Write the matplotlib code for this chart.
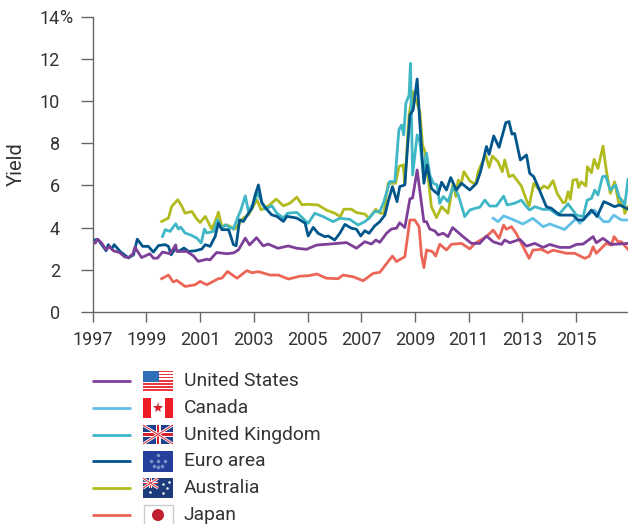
import matplotlib
matplotlib.use("Agg")
import matplotlib.pyplot as plt
from matplotlib.patches import Rectangle, Circle

plt.rcParams['font.family'] = ['Roboto', 'DejaVu Sans']

# =========================
# DATA
# =========================
us_t = [1997.0, 1997.1, 1997.17, 1997.33, 1997.5, 1997.62, 1997.77, 1998.0, 1998.2, 1998.36, 1998.5, 1998.57, 1998.82, 1999.13, 1999.26, 1999.41, 1999.6, 1999.88, 2000.09, 2000.13, 2000.5, 2000.75, 2000.93, 2001.25, 2001.37, 2001.5, 2001.62, 2002.0, 2002.25, 2002.43, 2002.68, 2002.84, 2003.1, 2003.35, 2003.53, 2003.9, 2004.28, 2004.59, 2004.96, 2005.33, 2005.83, 2006.45, 2006.82, 2007.13, 2007.38, 2007.54, 2007.69, 2007.94, 2008.12, 2008.31, 2008.43, 2008.62, 2008.81, 2008.91, 2009.08, 2009.2, 2009.33, 2009.43, 2009.55, 2009.74, 2009.86, 2010.05, 2010.23, 2010.4, 2010.57, 2010.79, 2011.1, 2011.41, 2011.66, 2011.91, 2012.22, 2012.34, 2012.53, 2012.9, 2013.15, 2013.46, 2013.77, 2014.02, 2014.39, 2014.76, 2015.01, 2015.26, 2015.63, 2015.75, 2016.0, 2016.31, 2016.93]
us_y = [3.34, 3.26, 3.45, 3.27, 2.95, 3.1, 2.9, 2.82, 2.6, 2.6, 2.76, 3.07, 2.58, 2.76, 2.55, 2.55, 2.84, 2.76, 3.18, 2.87, 2.87, 2.66, 2.4, 2.5, 2.47, 2.66, 2.82, 2.76, 2.8, 2.95, 3.5, 3.18, 3.52, 3.13, 3.22, 3.02, 3.13, 3.02, 2.97, 3.17, 3.22, 3.29, 3.02, 3.33, 3.22, 3.41, 3.3, 3.73, 3.93, 3.97, 4.23, 4.0, 5.36, 5.4, 6.73, 5.55, 4.28, 4.28, 3.93, 3.84, 3.65, 3.73, 3.57, 4.0, 3.81, 3.57, 3.25, 3.25, 3.6, 3.33, 3.2, 3.41, 3.28, 3.44, 3.12, 3.25, 3.06, 3.2, 3.06, 3.06, 3.2, 3.22, 3.57, 3.28, 3.49, 3.2, 3.25]

canada_t = [2011.91, 2012.09, 2012.3, 2012.53, 2013.02, 2013.39, 2013.77, 2014.02, 2014.57, 2015.01, 2015.13, 2015.38, 2015.69, 2015.9, 2016.03, 2016.22, 2016.4, 2016.68, 2016.93]
canada_y = [4.44, 4.28, 4.55, 4.44, 4.17, 4.44, 4.04, 4.17, 3.91, 4.44, 4.2, 4.52, 4.83, 4.44, 4.28, 4.28, 4.59, 4.36, 4.36]

uk_t = [1999.6, 1999.7, 1999.88, 2000.09, 2000.19, 2000.28, 2000.44, 2000.63, 2000.88, 2001.04, 2001.16, 2001.25, 2001.5, 2001.65, 2001.81, 2001.93, 2002.09, 2002.24, 2002.39, 2002.52, 2002.68, 2002.8, 2002.99, 2003.14, 2003.26, 2003.42, 2003.67, 2003.86, 2004.1, 2004.25, 2004.6, 2005.02, 2005.27, 2005.58, 2005.95, 2006.2, 2006.57, 2006.88, 2007.13, 2007.29, 2007.5, 2007.69, 2007.84, 2008.06, 2008.25, 2008.4, 2008.5, 2008.58, 2008.66, 2008.78, 2008.83, 2008.91, 2009.08, 2009.18, 2009.3, 2009.43, 2009.55, 2009.68, 2009.82, 2009.92, 2010.05, 2010.23, 2010.42, 2010.61, 2010.85, 2011.04, 2011.23, 2011.41, 2011.6, 2011.78, 2012.03, 2012.3, 2012.43, 2012.71, 2012.96, 2013.15, 2013.27, 2013.46, 2013.77, 2014.02, 2014.33, 2014.7, 2015.01, 2015.26, 2015.41, 2015.57, 2015.69, 2015.81, 2015.98, 2016.1, 2016.27, 2016.47, 2016.6, 2016.81, 2016.93]
uk_y = [3.58, 3.9, 3.82, 4.18, 3.93, 4.02, 3.74, 3.66, 3.5, 3.27, 3.93, 3.74, 3.82, 4.37, 3.93, 4.13, 4.02, 3.93, 4.45, 4.84, 5.5, 4.76, 5.16, 5.63, 5.32, 4.87, 5.03, 4.68, 4.45, 4.68, 4.72, 4.2, 4.68, 4.52, 4.28, 4.44, 4.39, 4.12, 4.28, 4.44, 4.76, 4.75, 5.23, 6.18, 6.18, 8.63, 8.86, 8.39, 9.89, 10.28, 11.78, 6.49, 8.39, 8.07, 6.65, 7.52, 6.49, 6.1, 6.02, 5.15, 5.47, 5.23, 5.94, 5.55, 4.52, 4.83, 4.91, 4.96, 5.3, 5.02, 5.02, 5.49, 5.07, 5.15, 5.3, 4.99, 4.83, 4.99, 4.86, 4.86, 4.59, 5.12, 4.59, 4.52, 5.3, 5.38, 5.78, 5.54, 6.41, 6.44, 5.78, 6.02, 5.46, 5.07, 6.28]

euro_t = [1997.0, 1997.21, 1997.5, 1997.58, 1997.71, 1997.8, 1998.02, 1998.33, 1998.52, 1998.66, 1998.86, 1999.07, 1999.26, 1999.45, 1999.7, 1999.82, 1999.92, 2000.07, 2000.19, 2000.4, 2000.57, 2000.81, 2001.06, 2001.19, 2001.37, 2001.56, 2001.68, 2001.81, 2002.06, 2002.24, 2002.34, 2002.47, 2002.61, 2002.8, 2002.93, 2003.05, 2003.17, 2003.3, 2003.55, 2003.67, 2003.86, 2004.1, 2004.23, 2004.6, 2004.91, 2005.02, 2005.21, 2005.39, 2005.64, 2005.77, 2006.01, 2006.2, 2006.39, 2006.63, 2006.82, 2006.98, 2007.13, 2007.29, 2007.5, 2007.69, 2007.88, 2008.0, 2008.16, 2008.33, 2008.43, 2008.62, 2008.81, 2008.93, 2009.08, 2009.2, 2009.33, 2009.45, 2009.61, 2009.74, 2009.86, 2009.99, 2010.17, 2010.33, 2010.54, 2010.73, 2011.04, 2011.29, 2011.44, 2011.66, 2011.76, 2011.93, 2012.13, 2012.38, 2012.5, 2012.61, 2012.71, 2012.92, 2013.15, 2013.27, 2013.42, 2013.54, 2013.71, 2013.89, 2014.08, 2014.39, 2014.88, 2015.07, 2015.26, 2015.57, 2015.78, 2016.03, 2016.31, 2016.43, 2016.62, 2016.93]
euro_y = [3.42, 3.42, 2.9, 3.19, 2.98, 3.19, 2.87, 2.56, 2.71, 3.45, 3.11, 3.11, 2.84, 3.15, 3.19, 3.11, 2.71, 3.0, 2.87, 3.03, 2.87, 2.9, 2.98, 3.19, 3.11, 3.58, 4.21, 3.9, 3.9, 3.19, 3.14, 4.37, 4.29, 4.68, 4.92, 5.55, 6.02, 5.16, 4.76, 4.6, 4.53, 4.29, 4.53, 4.45, 4.21, 3.6, 4.01, 3.73, 3.57, 3.6, 3.41, 3.73, 4.15, 3.97, 3.92, 3.6, 3.85, 3.73, 4.08, 4.28, 4.6, 5.23, 5.94, 5.23, 5.94, 6.02, 9.34, 9.57, 11.04, 8.55, 6.1, 6.97, 5.86, 5.7, 5.58, 6.15, 5.78, 6.37, 5.78, 6.1, 5.78, 6.1, 6.65, 7.84, 7.47, 8.34, 7.8, 8.97, 9.02, 8.43, 8.46, 7.2, 7.44, 6.57, 6.41, 6.06, 5.54, 4.99, 4.91, 4.59, 4.59, 4.36, 4.36, 4.83, 4.52, 5.23, 5.07, 4.99, 5.07, 4.88]

aus_t = [1999.57, 1999.82, 1999.94, 2000.17, 2000.32, 2000.44, 2000.69, 2000.88, 2001.0, 2001.19, 2001.43, 2001.56, 2001.68, 2001.81, 2001.99, 2002.3, 2002.61, 2002.8, 2003.11, 2003.27, 2003.55, 2003.83, 2004.1, 2004.35, 2004.6, 2004.79, 2005.0, 2005.39, 2005.7, 2006.01, 2006.22, 2006.35, 2006.63, 2006.82, 2007.13, 2007.29, 2007.54, 2007.69, 2007.84, 2008.0, 2008.28, 2008.4, 2008.56, 2008.62, 2008.78, 2008.93, 2009.05, 2009.18, 2009.28, 2009.37, 2009.49, 2009.61, 2009.8, 2009.99, 2010.23, 2010.42, 2010.52, 2010.61, 2010.71, 2010.82, 2011.04, 2011.26, 2011.35, 2011.63, 2011.76, 2011.88, 2012.09, 2012.25, 2012.34, 2012.5, 2012.65, 2012.96, 2013.15, 2013.25, 2013.42, 2013.64, 2013.8, 2013.95, 2014.14, 2014.29, 2014.51, 2014.6, 2014.7, 2014.78, 2014.88, 2015.03, 2015.09, 2015.19, 2015.36, 2015.42, 2015.57, 2015.67, 2015.81, 2016.0, 2016.12, 2016.27, 2016.43, 2016.6, 2016.72, 2016.81, 2016.93]
aus_y = [4.29, 4.45, 5.0, 5.32, 5.0, 4.68, 4.76, 4.4, 4.24, 4.53, 3.93, 4.29, 4.73, 4.05, 4.13, 3.93, 4.45, 4.6, 5.32, 4.84, 5.03, 5.35, 5.03, 5.16, 5.44, 5.08, 5.1, 5.07, 4.83, 4.68, 4.52, 4.87, 4.87, 4.71, 4.64, 4.44, 4.87, 4.68, 4.68, 6.1, 6.1, 6.89, 6.97, 6.1, 9.34, 10.44, 9.97, 9.5, 7.91, 7.6, 6.33, 4.99, 4.47, 4.99, 4.68, 6.1, 5.47, 6.25, 6.02, 6.65, 6.21, 6.05, 6.65, 7.44, 6.85, 7.39, 7.12, 6.65, 7.2, 6.41, 6.49, 5.97, 5.3, 5.02, 6.09, 5.78, 5.97, 5.86, 6.22, 5.62, 5.18, 5.2, 5.7, 5.34, 6.25, 6.28, 5.9, 6.17, 5.97, 6.88, 6.6, 7.23, 6.8, 7.86, 6.73, 5.62, 6.17, 5.07, 5.3, 4.67, 4.99]

japan_t = [1999.57, 1999.82, 2000.0, 2000.13, 2000.44, 2000.81, 2001.0, 2001.25, 2001.68, 2001.81, 2002.02, 2002.37, 2002.74, 2002.93, 2003.17, 2003.61, 2003.92, 2004.29, 2004.73, 2005.04, 2005.35, 2005.7, 2006.14, 2006.32, 2006.7, 2007.07, 2007.44, 2007.69, 2008.0, 2008.16, 2008.31, 2008.62, 2008.81, 2008.99, 2009.15, 2009.24, 2009.33, 2009.43, 2009.65, 2009.77, 2009.92, 2010.17, 2010.36, 2010.73, 2011.04, 2011.23, 2011.66, 2011.91, 2012.13, 2012.3, 2012.4, 2012.59, 2012.77, 2012.96, 2013.25, 2013.39, 2013.7, 2013.95, 2014.14, 2014.64, 2014.95, 2015.32, 2015.5, 2015.63, 2015.75, 2016.12, 2016.31, 2016.41, 2016.56, 2016.68, 2016.93]
japan_y = [1.58, 1.75, 1.42, 1.5, 1.21, 1.29, 1.45, 1.29, 1.58, 1.6, 1.92, 1.6, 1.96, 1.86, 1.91, 1.75, 1.75, 1.56, 1.7, 1.72, 1.8, 1.6, 1.58, 1.75, 1.67, 1.48, 1.83, 1.88, 2.39, 2.65, 2.39, 2.62, 4.36, 4.36, 4.04, 2.7, 2.1, 2.94, 2.86, 2.65, 3.21, 2.94, 3.21, 3.25, 2.99, 3.25, 3.57, 3.88, 3.49, 4.12, 3.92, 4.04, 3.72, 3.25, 2.54, 2.93, 2.97, 2.81, 2.93, 2.78, 2.78, 2.54, 2.65, 3.09, 2.78, 3.25, 3.17, 3.57, 3.33, 3.33, 2.97]

y_ticks = [0, 2, 4, 6, 8, 10, 12, 14]
x_ticks = [1997, 1999, 2001, 2003, 2005, 2007, 2009, 2011, 2013, 2015]
legend_names = ["United States", "Canada", "United Kingdom", "Euro area", "Australia", "Japan"]

PURPLE = "#7d3f98"
SKY = "#62c0e8"
TEAL = "#3fb7c7"
NAVY = "#00568a"
LIME = "#b2bb1e"
RED = "#ec6657"
TEXT = "#333333"
AXIS = "#666666"
LW = 2.0

# =========================
# CHART
# =========================
W, H = 628, 524
fig = plt.figure(figsize=(W / 100, H / 100), dpi=100)
ax = fig.add_axes([92.7 / W, (H - 312) / H, (W - 92.7) / W, (312 - 16.5) / H])

ax.plot(aus_t, aus_y, color=LIME, lw=LW)
ax.plot(japan_t, japan_y, color=RED, lw=LW)
ax.plot(canada_t, canada_y, color=SKY, lw=LW)
ax.plot(uk_t, uk_y, color=TEAL, lw=LW)
ax.plot(euro_t, euro_y, color=NAVY, lw=LW)
ax.plot(us_t, us_y, color=PURPLE, lw=LW)

ax.set_xlim(1997, 2016.93)
ax.set_ylim(0, 14)
ax.set_xticks(x_ticks)
ax.set_yticks(y_ticks)
ax.set_yticklabels([str(v) for v in y_ticks])
ax.tick_params(axis='x', length=7.5, width=1, color=AXIS, labelsize=13, labelcolor=TEXT, pad=6)
ax.tick_params(axis='y', length=8.6, width=1, color=AXIS, labelsize=13, labelcolor=TEXT, pad=15)
for s in ['top', 'right']:
    ax.spines[s].set_visible(False)
for s in ['left', 'bottom']:
    ax.spines[s].set_color(AXIS)
    ax.spines[s].set_linewidth(1)

# =========================
# OVERLAY (pixel coords)
# =========================
ov = fig.add_axes([0, 0, 1, 1])
ov.set_xlim(0, W)
ov.set_ylim(H, 0)
ov.axis('off')
ov.patch.set_alpha(0)

ov.text(59.5, 18, "%", fontsize=13, color=TEXT, ha='left', va='center')
ov.text(16, 164, "Yield", fontsize=14.5, color=TEXT, rotation=90, ha='center', va='center')


def box(x, y, w, h, c, **kw):
    ov.add_patch(Rectangle((x, y), w, h, facecolor=c, edgecolor='none', **kw))


def cross(x0, y0, x1, y1, c, lw):
    ov.plot([x0, x1], [y0, y1], color=c, lw=lw, solid_capstyle='butt')


def union_jack(x, y, w, h):
    box(x, y, w, h, "#1f3f8f")
    cross(x, y, x + w, y + h, "white", 2.0)
    cross(x, y + h, x + w, y, "white", 2.0)
    cross(x, y, x + w, y + h, "#d8232f", 0.7)
    cross(x, y + h, x + w, y, "#d8232f", 0.7)
    bw = w / 6
    box(x + w / 2 - bw / 2, y, bw, h, "white")
    box(x, y + h / 2 - bw / 2, w, bw, "white")
    box(x + w / 2 - bw / 4, y, bw / 2, h, "#d8232f")
    box(x, y + h / 2 - bw / 4, w, bw / 2, "#d8232f")


def flag(name, x, yc):
    w, h = 30, 20
    y = yc - h / 2
    if name == "United States":
        box(x, y, w, h, "white")
        for k in range(7):
            box(x, y + k * h / 6.5, w, h / 13, "#e8373f")
        box(x, y, w * 0.52, h * 0.55, "#2f6fb8")
    elif name == "Canada":
        box(x, y, w, h, "white")
        box(x, y, 8, h, "#ee1c25")
        box(x + w - 8, y, 8, h, "#ee1c25")
        ov.plot([x + w / 2], [yc], marker='*', ms=8, color="#d8232f", mew=0)
    elif name == "United Kingdom":
        union_jack(x, y + 0.5, w, h - 1)
    elif name == "Euro area":
        box(x, y - 0.5, w, h + 1, "#24409a")
        for dx, dy in [(0, -6), (-7, 0), (7, 0), (0, 6), (-4, 5), (4, 5), (0, 0)]:
            ov.plot([x + w / 2 + dx], [yc + dy], marker='o', ms=2.5, color="#7f93c8", mew=0)
    elif name == "Australia":
        box(x, y, w, h, "#1d3a7a")
        union_jack(x, y, w / 2, h / 2)
        for dx, dy in [(7, 14), (20, 6), (24, 10), (20, 15), (26, 4)]:
            ov.plot([x + dx], [y + dy], marker='o', ms=1.8, color="white", mew=0)
    else:
        ov.add_patch(Rectangle((x + 0.5, y), w - 1, h, facecolor="white", edgecolor="#cccccc", lw=1))
        ov.add_patch(Circle((x + w / 2, yc), 6, facecolor="#c0202f", edgecolor='none'))


legend_colors = [PURPLE, SKY, TEAL, NAVY, LIME, RED]
for i, name in enumerate(legend_names):
    yc = 380.8 + i * 26.85
    cross(92, yc, 131, yc, legend_colors[i], LW)
    flag(name, 143, yc)
    ov.text(184, yc, name, fontsize=13.9, color=TEXT, ha='left', va='center')

ov.set_xlim(0, W)
ov.set_ylim(H, 0)
fig.savefig("out.png", dpi=100)
